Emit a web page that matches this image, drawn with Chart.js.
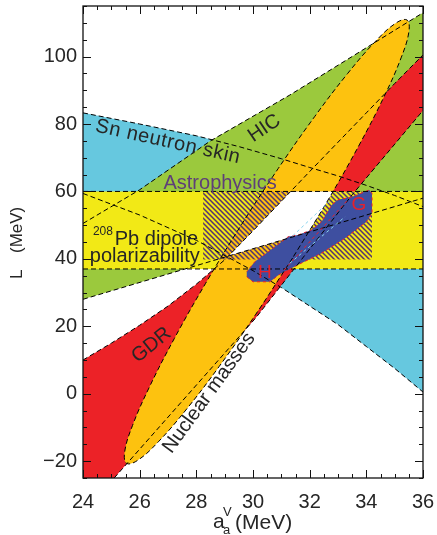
<!DOCTYPE html>
<html><head><meta charset="utf-8">
<script src="https://cdn.jsdelivr.net/npm/chart.js@4/dist/chart.umd.min.js"></script>
<style>html,body{margin:0;padding:0;background:#fff}canvas{display:block}</style>
</head><body>
<canvas id="c" width="437" height="535"></canvas>
<script>
// ---------- data (x = a_a^V in MeV, y = L in MeV) ----------
const xTicks = [24, 26, 28, 30, 32, 34, 36];
const yTicks = [-20, 0, 20, 40, 60, 80, 100];
const xRange = [24, 36];
const yRange = [-25, 115];

// Sn neutron skin band
const snUpper = [[24,83.3],[26,80],[28,76.5],[29.5,73.3],[31,69.7],[32,67.1],[33,64.6],[34,61.8],[35,58.8],[36,55.5]];
const snLower = [[24,59.4],[26,53],[28,45.5],[30,36.5],[31,31.5],[32,26],[33,20.5],[34,14],[35,7.5],[36,0.5]];
// heavy-ion collisions band
const hicUpper = [[24,50.5],[26,60.5],[28.5,75],[31.3,88.6],[36,113]];
const hicLower = [[24,28],[36,58]];
// giant dipole resonance band
const gdrUpper = [[24,10],[25,15],[26,20.3],[27,26],[28,32.5],[29,39.7],[30,48.3],[31,57.1],[32,65.9],[33,74.6],[34,83.3],[35,92],[36,100.5]];
const gdrLower = [[25.1,-25],[30.1,22.5],[33.5,59],[36,84]];
const gdrCorner = [[24,-25]];
// 208Pb dipole polarizability band (L limits)
const pbBand = [37, 60];
// nuclear masses ellipse contour
const massEllipse = [[31.397,40.255],[30.085,23.40],[28.801,8.02],[27.631,-4.83],[26.657,-14.28],[25.944,-19.68],[25.539,-20.67],[25.472,-17.18],[25.747,-9.44],[26.345,2.01],[27.225,16.40],[28.327,32.74],[29.577,49.93],[30.889,66.78],[32.173,82.16],[33.343,95.01],[34.317,104.46],[35.030,109.86],[35.435,110.85],[35.502,107.36],[35.227,99.62],[34.629,88.17],[33.749,73.78],[32.647,57.44],[31.397,40.255]];
// astrophysics box (hatched)
const astroX = [28.24, 34.2];
const astroY = [39.8, 60];
// experimental overlap (white)
const overlap = [[29.15,40.9],[31.95,47.9],[32.24,51.75],[32.49,55.17],[32.73,58.56],[32.82,60],[31.33,60],[31,57.1],[30,48.3],[29.15,40.9]];
// neutron matter H and G (blue)
const chiralHG = [[29.78,34.7],[30.0,33.2],[30.6,33.2],[30.9,35.2],[31.7,38.7],[32.4,41.6],[33.25,46.1],[34.0,51.0],[34.2,53.5],[34.2,59.4],[34.1,60.4],[33.5,58.4],[33.0,57.5],[32.78,56],[32.42,51.0],[32.07,48.6],[31.6,47.1],[31.25,46.6],[30.54,42.1],[30.07,39.2],[29.78,36.2]];
const hOutline1 = [[31.3,38.7],[33.25,52.5]];
const hOutline2 = [[31.4,46.8],[32.75,57.5]];
const gOutline = [[31.1,36.7],[33.4,58]];

// ---------- helpers ----------
const P = arr => arr.map(([x, y]) => ({x, y}));
const rev = arr => arr.slice().reverse();
const snPoly = P(snUpper.concat(rev(snLower)));
const hicPoly = P(hicUpper.concat(rev(hicLower)));
const gdrPoly = P(gdrUpper.concat(rev(gdrLower), gdrCorner));
const pbPoly = P([[xRange[0],pbBand[0]],[xRange[1],pbBand[0]],[xRange[1],pbBand[1]],[xRange[0],pbBand[1]]]);
const astroPoly = P([[astroX[0],astroY[0]],[astroX[1],astroY[0]],[astroX[1],astroY[1]],[astroX[0],astroY[1]]]);

const canvas = document.getElementById('c');
const ctx0 = canvas.getContext('2d');
function makeHatch() {
  const c = document.createElement('canvas');
  c.width = 5; c.height = 5;
  const g = c.getContext('2d');
  g.strokeStyle = '#54346e'; g.lineWidth = 1.5;
  g.beginPath();
  g.moveTo(-1,-1); g.lineTo(6,6);
  g.moveTo(-1,4); g.lineTo(1,6);
  g.moveTo(4,-1); g.lineTo(6,1);
  g.stroke();
  return ctx0.createPattern(c, 'repeat');
}

const NONE = 'rgba(0,0,0,0)';
function area(data, color, order, tension) {
  return {data, backgroundColor: color, borderColor: NONE, borderWidth: 0, fill: 'shape',
          order, pointRadius: 0, tension: tension || 0, clip: 0};
}
function dash(data, color, order, pattern, tension) {
  return {data, borderColor: color, borderWidth: 1, borderDash: pattern || [5,3], fill: false,
          order, pointRadius: 0, tension: tension || 0, clip: 0};
}

const datasets = [
  area(snPoly, '#66c8df', 20),
  area(hicPoly, '#9bc93d', 19),
  area(gdrPoly, '#ec2227', 18),
  area(pbPoly, '#f2e916', 17),
  area(P(massEllipse), '#fdc20f', 16, 0.4),
  area(astroPoly, makeHatch(), 15),
  area(P(overlap), '#ffffff', 14),
  Object.assign(area(P(chiralHG), '#3e4fa0', 13), {borderColor:'#e8202a', borderWidth:1, borderDash:[3,3]}),
  dash(P(snUpper), '#000', 5),
  dash(P(snLower), '#000', 5),
  dash(P(hicUpper), '#000', 5),
  dash(P(hicLower), '#000', 5),
  dash(P(gdrUpper), '#000', 5),
  dash(P(gdrLower), '#000', 5),
  dash(P([[xRange[0],pbBand[0]],[xRange[1],pbBand[0]]]), '#000', 5),
  dash(P([[xRange[0],pbBand[1]],[xRange[1],pbBand[1]]]), '#000', 5),
  dash(P(massEllipse), '#000', 5, [5,3], 0.4),
  dash(P(hOutline1), '#86d3ee', 4, [3,3]),
  dash(P(hOutline2), '#86d3ee', 4, [3,3]),
  dash(P(gOutline), '#e8202a', 4, [3,3])
];

const FONT = "'Liberation Sans', Arial, sans-serif";
const TXT = '#262626';
const notes = [
  {text:'Sn neutron skin', x:27.0, y:74.7, rot:12.5, size:20, color:TXT, align:'center', base:'middle', ls:'0.6px'},
  {text:'HIC', x:30.4, y:78.7, rot:-34, size:20, color:TXT, align:'center', base:'middle'},
  {text:'Astrophysics', x:28.84, y:60.6, rot:0, size:20, color:'#5e3f78', align:'center', base:'alphabetic'},
  {text:'208', x:24.35, y:47.07, rot:0, size:12, color:TXT, align:'left', base:'alphabetic'},
  {text:'Pb dipole', x:25.12, y:44.1, rot:0, size:20, color:TXT, align:'left', base:'alphabetic'},
  {text:'polarizability', x:24.24, y:39.2, rot:0, size:20, color:TXT, align:'left', base:'alphabetic'},
  {text:'GDR', x:26.42, y:14.44, rot:-39, size:20, color:TXT, align:'center', base:'middle'},
  {text:'Nuclear masses', x:28.45, y:0.2, rot:-54, size:20, color:TXT, align:'center', base:'middle'},
  {text:'H', x:30.42, y:35.8, rot:0, size:19, color:'#e8202a', align:'center', base:'middle'},
  {text:'G', x:33.74, y:56.0, rot:0, size:19, color:'#e8202a', align:'center', base:'middle'}
];

const deco = {
  id: 'deco',
  afterDraw(chart) {
    const {ctx, chartArea: a, scales: {x, y}} = chart;
    ctx.save();
    // frame
    ctx.strokeStyle = '#111'; ctx.lineWidth = 1.3;
    ctx.strokeRect(a.left, a.top, a.right - a.left, a.bottom - a.top);
    ctx.lineWidth = 1;
    ctx.beginPath();
    for (let v = xRange[0]; v <= xRange[1] + 1e-9; v += 0.5) {
      const px = Math.round(x.getPixelForValue(v)) + 0.5;
      const len = xTicks.includes(v) ? 8 : 4;
      ctx.moveTo(px, a.bottom); ctx.lineTo(px, a.bottom - len);
      ctx.moveTo(px, a.top); ctx.lineTo(px, a.top + len);
    }
    for (let v = yRange[0]; v <= yRange[1] + 1e-9; v += 5) {
      const py = Math.round(y.getPixelForValue(v)) + 0.5;
      const len = yTicks.includes(v) ? 8 : 4;
      ctx.moveTo(a.left, py); ctx.lineTo(a.left + len, py);
      ctx.moveTo(a.right, py); ctx.lineTo(a.right - len, py);
    }
    ctx.stroke();
    // tick labels
    ctx.fillStyle = TXT;
    ctx.font = '20px ' + FONT;
    ctx.textAlign = 'center'; ctx.textBaseline = 'alphabetic';
    for (const v of xTicks) ctx.fillText(String(v), x.getPixelForValue(v), 508);
    ctx.textAlign = 'right'; ctx.textBaseline = 'middle';
    for (const v of yTicks) ctx.fillText(v < 0 ? '\u2212' + Math.abs(v) : String(v), a.left - 6, y.getPixelForValue(v));
    // annotations
    for (const n of notes) {
      ctx.save();
      ctx.translate(x.getPixelForValue(n.x), y.getPixelForValue(n.y));
      ctx.rotate(n.rot * Math.PI / 180);
      ctx.font = n.size + 'px ' + FONT;
      ctx.fillStyle = n.color;
      ctx.textAlign = n.align; ctx.textBaseline = n.base;
      if (n.ls) ctx.letterSpacing = n.ls;
      ctx.fillText(n.text, 0, 0);
      ctx.restore();
    }
    // axis titles
    ctx.fillStyle = TXT;
    ctx.textBaseline = 'alphabetic'; ctx.textAlign = 'left';
    ctx.font = '21px ' + FONT;
    ctx.fillText('a', 213, 528);
    ctx.fillText('(MeV)', 235, 529);
    ctx.font = '13px ' + FONT;
    ctx.fillText('a', 223, 534);
    ctx.fillText('V', 223, 516);
    ctx.save();
    ctx.translate(22, 0);
    ctx.rotate(-Math.PI / 2);
    ctx.font = '17px ' + FONT;
    ctx.textAlign = 'left';
    ctx.fillText('L', -279, 0);
    ctx.fillText('(MeV)', -253, 0);
    ctx.restore();
    ctx.restore();
  }
};

new Chart(canvas, {
  type: 'line',
  data: {datasets},
  options: {
    responsive: false, animation: false, devicePixelRatio: 1, events: [],
    layout: {padding: {left: 83, top: 6, right: 14, bottom: 57}},
    plugins: {legend: {display: false}, tooltip: {enabled: false}},
    elements: {point: {radius: 0}},
    scales: {
      x: {type: 'linear', display: false, min: xRange[0], max: xRange[1]},
      y: {type: 'linear', display: false, min: yRange[0], max: yRange[1]}
    }
  },
  plugins: [deco]
});
</script>
</body></html>
